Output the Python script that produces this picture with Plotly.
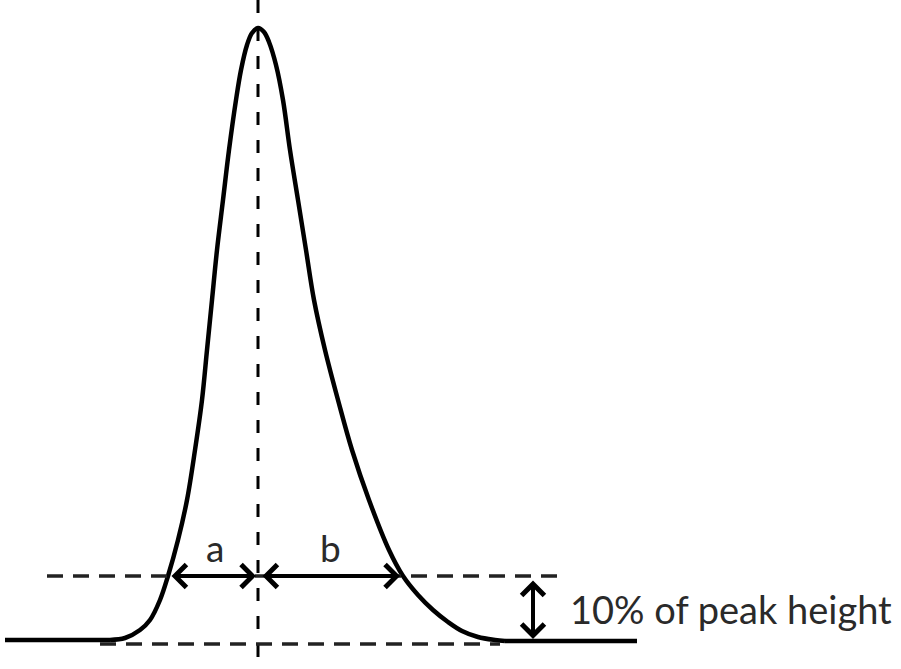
import plotly.graph_objects as go

# Peak outline (x, y in picture units; y grows downward)
curve_x = [110, 125, 140, 150, 160, 168, 178, 187, 195, 202, 207, 212, 217, 223, 229, 236, 241, 247, 252, 258,
           264, 269, 276, 283, 290, 298, 306, 314, 325, 338, 352, 369, 389, 403, 418, 433, 448, 462, 478, 495, 505]
curve_y = [640, 638, 630, 620, 600, 576, 540, 500, 450, 400, 350, 300, 250, 200, 150, 100, 70, 45, 33, 28,
           32, 42, 65, 100, 150, 200, 250, 300, 350, 400, 450, 500, 550, 576, 595, 610, 622, 631, 637, 640, 641]

base_left_x = [5, 110]
base_left_y = [640, 640]
base_right_x = [505, 637]
base_right_y = [641, 641]

# guide lines
peak_x = 258
ten_pct_y = 576
baseline_dash_y = 644
ten_pct_span = [47, 563]
baseline_dash_span = [100, 500]

# arrows
a_span = [170, 256]
b_span = [261, 400]
v_arrow_x = 533
v_span = [579, 639]

labels = ["a", "b", "10% of peak height"]

fig = go.Figure()
fig.add_trace(go.Scatter(x=curve_x, y=curve_y, mode="lines", line=dict(color="black", width=4.5, shape="spline"),
                         hoverinfo="skip"))
fig.add_trace(go.Scatter(x=base_left_x, y=base_left_y, mode="lines", line=dict(color="black", width=4.5),
                         hoverinfo="skip"))
fig.add_trace(go.Scatter(x=base_right_x, y=base_right_y, mode="lines", line=dict(color="black", width=4.5),
                         hoverinfo="skip"))

dash_h = "16px,10px"
fig.add_shape(type="line", x0=peak_x, x1=peak_x, y0=0, y1=669,
              line=dict(color="black", width=3, dash="13px,15px"))
fig.add_shape(type="line", x0=ten_pct_span[0], x1=ten_pct_span[1], y0=ten_pct_y, y1=ten_pct_y,
              line=dict(color="#222", width=3.5, dash=dash_h))
fig.add_shape(type="line", x0=baseline_dash_span[0], x1=baseline_dash_span[1], y0=baseline_dash_y, y1=baseline_dash_y,
              line=dict(color="#222", width=3.5, dash=dash_h))

def dbl_arrow(x0, y0, x1, y1):
    fig.add_annotation(x=x1, y=y1, ax=x0, ay=y0, xref="x", yref="y", axref="x", ayref="y",
                       text="", showarrow=True, arrowhead=4, startarrowhead=4, arrowside="end+start",
                       arrowwidth=4, arrowsize=1.1, startarrowsize=1.1, arrowcolor="black")

dbl_arrow(a_span[0], ten_pct_y, a_span[1], ten_pct_y)
dbl_arrow(b_span[0], ten_pct_y, b_span[1], ten_pct_y)
dbl_arrow(v_arrow_x, v_span[0], v_arrow_x, v_span[1])

font = dict(family="Lato", color="#2a2a2a")
fig.add_annotation(x=215, y=547, text=labels[0], showarrow=False, font=dict(size=37, **font))
fig.add_annotation(x=330, y=547, text=labels[1], showarrow=False, font=dict(size=37, **font))
fig.add_annotation(x=568, y=609, text=labels[2], showarrow=False, xanchor="left",
                   font=dict(size=38, **font))

fig.update_layout(width=901, height=669, margin=dict(l=0, r=0, t=0, b=0),
                  paper_bgcolor="white", plot_bgcolor="white", showlegend=False,
                  xaxis=dict(range=[0, 901], visible=False, fixedrange=True),
                  yaxis=dict(range=[669, 0], visible=False, fixedrange=True))
fig.write_html("out.html", post_script="document.body.style.margin='0';",
               config={"displayModeBar": False})
